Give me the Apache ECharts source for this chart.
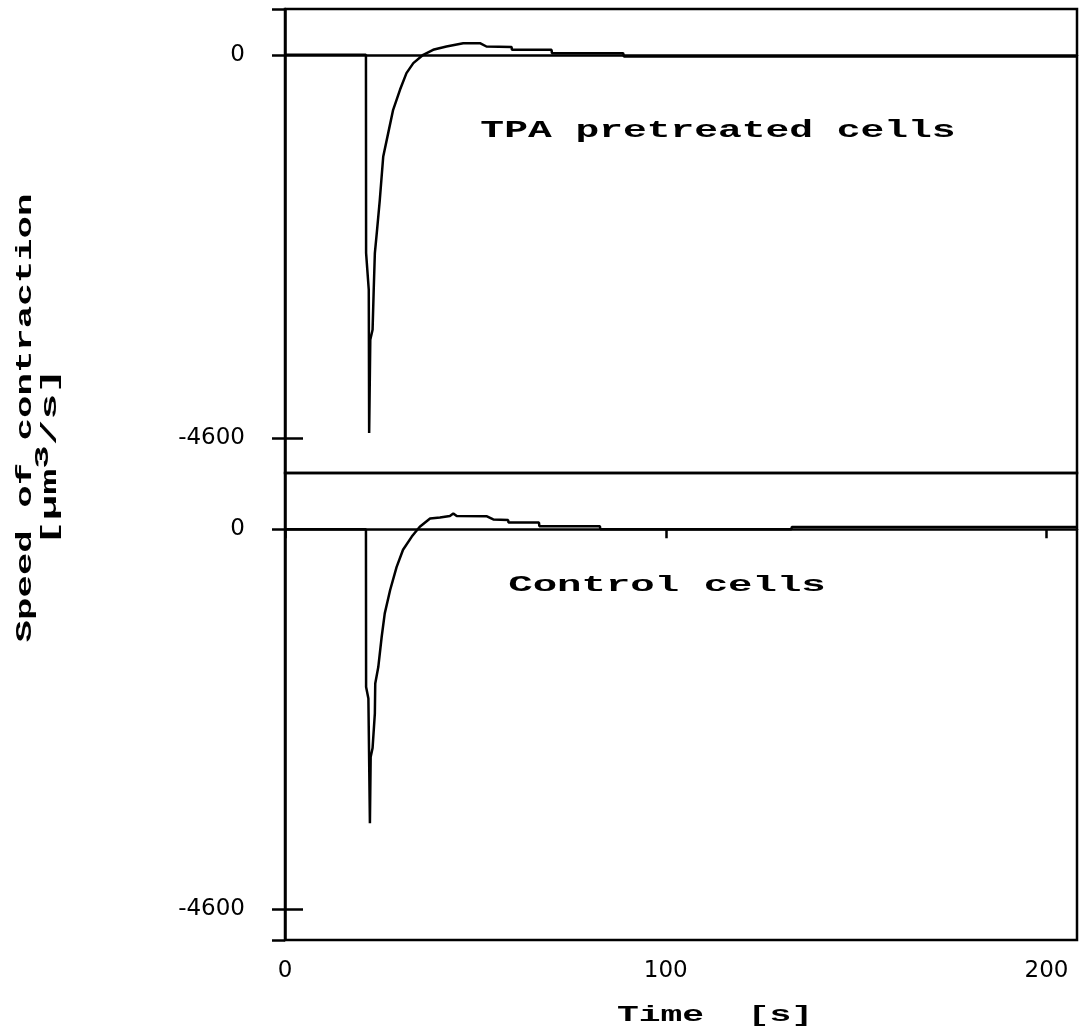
<!DOCTYPE html>
<html>
<head>
<meta charset="utf-8">
<title>Speed of contraction</title>
<script src="https://cdn.jsdelivr.net/npm/echarts@6/dist/echarts.min.js"></script>
<style>
  html, body { margin: 0; padding: 0; background: #fff; }
  #chart { width: 1080px; height: 1027px; }
</style>
</head>
<body>
<div id="chart"></div>
<script>
// TPA pretreated cells (upper panel)
var tpaTime = [0, 21.26, 21.3, 22.0, 22.1, 22.4, 23.0, 23.3, 23.6, 24.1, 24.9, 25.8, 27.1, 28.4, 30.2, 31.9, 33.7, 36.3, 38.9, 42.4, 46.8, 51.2, 52.9, 59.5, 59.6, 70.0, 70.1, 88.8, 89.0, 208];
var tpaSpeed = [0, 0, -2380, -2820, -4540, -3420, -3300, -2820, -2380, -2140, -1740, -1220, -940, -660, -420, -220, -100, 0, 60, 100, 140, 140, 100, 95, 60, 60, 20, 20, -20, -20];

// Control cells (lower panel)
var ctrlTime = [0, 21.26, 21.3, 21.9, 22.3, 22.5, 23.0, 23.6, 23.7, 24.5, 25.4, 26.2, 27.6, 29.3, 31.0, 33.3, 35.4, 38.1, 40.7, 43.3, 44.2, 45.1, 52.9, 54.7, 58.6, 58.7, 66.7, 66.8, 82.7, 82.8, 133.0, 133.1, 208];
var ctrlSpeed = [0, 0, -1910, -2050, -3560, -2760, -2650, -2230, -1870, -1670, -1300, -1020, -740, -460, -250, -90, 30, 130, 140, 160, 190, 160, 157, 117, 110, 80, 80, 36, 36, 0, 0, 25, 25];

var xTicks = [0, 100, 200];
var yTicks = [0, -4600];

function pairs(xs, ys) {
  var out = [];
  for (var i = 0; i < xs.length; i++) out.push([xs[i], ys[i]]);
  return out;
}

var chart = echarts.init(document.getElementById('chart'));
var typeFont = 'Liberation Mono';
var black = '#000';

function plainLabel(v) { return String(v); }

function yMain(grid, min, max, outerTicks) {
  return {
    type: 'value', gridIndex: grid, min: min, max: max,
    axisLine: { show: true, lineStyle: { color: black, width: 2.5 } },
    axisTick: { show: true, length: 13, inside: false, customValues: outerTicks, lineStyle: { color: black, width: 2.5 } },
    axisLabel: { margin: 40, customValues: yTicks, formatter: plainLabel, color: black, fontFamily: 'DejaVu Sans', fontSize: 23 },
    splitLine: { show: false }
  };
}
function yInner(grid, min, max) {
  return {
    type: 'value', gridIndex: grid, min: min, max: max, position: 'left',
    axisLine: { show: false },
    axisTick: { show: true, inside: true, length: 18, customValues: [-4600], lineStyle: { color: black, width: 2.5 } },
    axisLabel: { show: false },
    splitLine: { show: false }
  };
}

var option = {
  backgroundColor: '#fff',
  animation: false,
  grid: [
    { left: 285, right: 3, top: 9, height: 464, show: true, borderColor: black, borderWidth: 2.5 },
    { left: 285, right: 3, top: 473, height: 467, show: true, borderColor: black, borderWidth: 2.5 }
  ],
  xAxis: [
    {
      type: 'value', gridIndex: 0, min: 0, max: 208, interval: 100,
      axisLine: { show: true, lineStyle: { color: black, width: 2.5 } },
      axisTick: { show: false }, axisLabel: { show: false }, splitLine: { show: false }
    },
    {
      type: 'value', gridIndex: 1, min: 0, max: 208, interval: 100,
      axisLine: { show: true, lineStyle: { color: black, width: 2.5 } },
      axisTick: { show: true, length: 9, customValues: xTicks, lineStyle: { color: black, width: 2.5 } },
      axisLabel: { margin: 20, customValues: xTicks, formatter: plainLabel, color: black, fontFamily: 'DejaVu Sans', fontSize: 23 },
      splitLine: { show: false }
    }
  ],
  yAxis: [
    yMain(0, -5020, 550, [550, 0, -4600]),
    yInner(0, -5020, 550),
    yMain(1, -4975, 680, [0, -4600, -4975]),
    yInner(1, -4975, 680)
  ],
  series: [
    {
      name: 'TPA pretreated cells', type: 'line', xAxisIndex: 0, yAxisIndex: 0,
      data: pairs(tpaTime, tpaSpeed), showSymbol: false,
      lineStyle: { color: black, width: 2.5 }
    },
    {
      name: 'Control cells', type: 'line', xAxisIndex: 1, yAxisIndex: 2,
      data: pairs(ctrlTime, ctrlSpeed), showSymbol: false,
      lineStyle: { color: black, width: 2.5 }
    }
  ],
  graphic: [
    {
      type: 'text', x: 718, y: 131, scaleX: 1.65,
      style: { text: 'TPA pretreated cells', fontFamily: typeFont, fontWeight: 'bold', fontSize: 24, fill: black, align: 'center', verticalAlign: 'middle' }
    },
    {
      type: 'text', x: 667, y: 585, scaleX: 1.85,
      style: { text: 'Control cells', fontFamily: typeFont, fontWeight: 'bold', fontSize: 22, fill: black, align: 'center', verticalAlign: 'middle' }
    },
    {
      type: 'text', x: 715, y: 1015, scaleX: 1.65,
      style: { text: 'Time  [s]', fontFamily: typeFont, fontWeight: 'bold', fontSize: 22, fill: black, align: 'center', verticalAlign: 'middle' }
    },
    {
      type: 'text', x: 25, y: 418, rotation: Math.PI / 2, scaleX: 1.7,
      style: { text: 'Speed of contraction', fontFamily: typeFont, fontWeight: 'bold', fontSize: 22, fill: black, align: 'center', verticalAlign: 'middle' }
    },
    {
      type: 'text', x: 47, y: 457, rotation: Math.PI / 2, scaleX: 1.95,
      style: {
        text: '{b|[µm}{s|3}{b|/s]}', align: 'center', verticalAlign: 'middle',
        rich: {
          b: { fontFamily: typeFont, fontWeight: 'bold', fontSize: 22, fill: black, lineHeight: 28, verticalAlign: 'bottom' },
          s: { fontFamily: typeFont, fontWeight: 'bold', fontSize: 20, fill: black, verticalAlign: 'top' }
        }
      }
    }
  ]
};

chart.setOption(option);
</script>
</body>
</html>
